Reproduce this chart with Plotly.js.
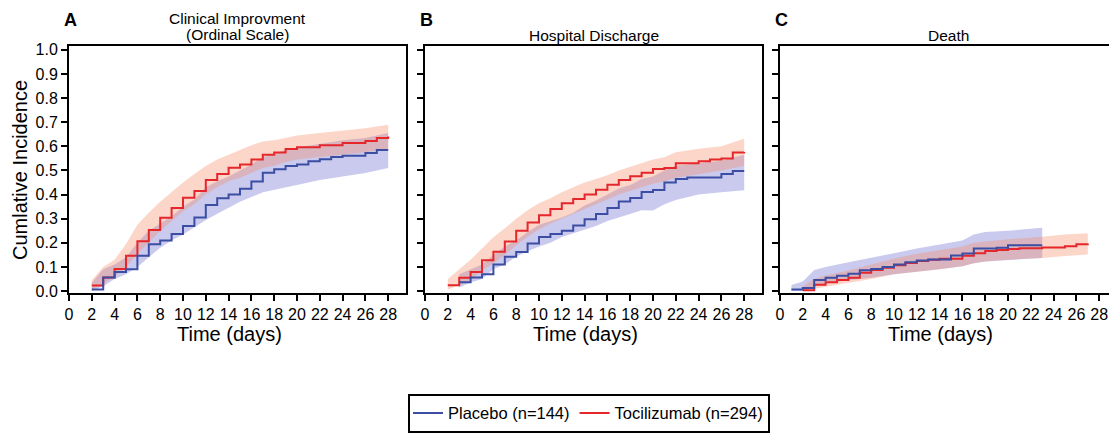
<!DOCTYPE html>
<html>
<head>
<meta charset="utf-8">
<script src="https://cdn.plot.ly/plotly-3.0.1.min.js"></script>
<style>
html, body { margin: 0; padding: 0; overflow: hidden; background: #fff; }
#chart { width: 1120px; height: 433px; }
</style>
</head>
<body>
<div id="chart"></div>
<script>
// ---------- Data ----------
const panelTitles = ["Clinical Improvment", "Hospital Discharge", "Death"];
const panelLetters = ["A", "B", "C"];
const seriesNames = ["Placebo (n=144)", "Tocilizumab (n=294)"];
const xTicks = [0, 2, 4, 6, 8, 10, 12, 14, 16, 18, 20, 22, 24, 26, 28];
const yTicks = [0, 0.1, 0.2, 0.3, 0.4, 0.5, 0.6, 0.7, 0.8, 0.9, 1.0];

// Panel A: Clinical improvement (ordinal scale)
const aToci_t = [2,3,4,5,6,7,8,9,10,11,12,13,14,15,16,17,18,19,20,22,24,26,27,28];
const aToci_v = [0.023,0.056,0.092,0.146,0.207,0.253,0.304,0.344,0.387,0.415,0.46,0.485,0.511,0.525,0.545,0.565,0.574,0.589,0.596,0.605,0.614,0.622,0.635,0.641];
const aPlac_t = [2,3,4,5,6,7,8,9,10,11,12,13,14,15,16,17,18,19,20,21,22,23,24,26,27,28];
const aPlac_v = [0.007,0.056,0.079,0.09,0.146,0.194,0.21,0.237,0.27,0.305,0.357,0.385,0.40,0.424,0.454,0.491,0.505,0.518,0.525,0.538,0.547,0.556,0.561,0.572,0.585,0.585];
const aBand_t = [2,3,4,5,6,7,8,9,10,11,12,13,14,15,16,17,18,19,20,22,24,26,28];
const aToci_hi = [0.045,0.10,0.13,0.195,0.275,0.325,0.37,0.41,0.45,0.485,0.518,0.545,0.565,0.585,0.605,0.62,0.625,0.635,0.645,0.655,0.665,0.675,0.69];
const aToci_lo = [0.005,0.03,0.06,0.10,0.155,0.20,0.25,0.29,0.33,0.36,0.40,0.43,0.455,0.47,0.49,0.51,0.52,0.535,0.545,0.555,0.565,0.575,0.59];
const aPlac_hi = [0.035,0.09,0.11,0.14,0.20,0.25,0.28,0.31,0.35,0.38,0.43,0.455,0.475,0.50,0.525,0.555,0.57,0.585,0.595,0.61,0.625,0.635,0.655];
const aPlac_lo = [0.0,0.02,0.05,0.07,0.10,0.14,0.18,0.21,0.235,0.265,0.295,0.32,0.345,0.37,0.39,0.41,0.42,0.43,0.44,0.46,0.475,0.49,0.51];

// Panel B: Hospital discharge
const bToci_t = [2,3,4,5,6,7,8,9,10,11,12,13,14,15,16,17,18,19,20,21,22,24,25,26,27,28];
const bToci_v = [0.024,0.055,0.079,0.128,0.163,0.205,0.25,0.284,0.314,0.34,0.364,0.382,0.40,0.42,0.441,0.46,0.476,0.491,0.506,0.51,0.53,0.538,0.545,0.55,0.574,0.577];
const bPlac_t = [3,4,5,6,7,8,9,10,11,12,13,14,15,16,17,18,19,20,21,22,23,26,27,28];
const bPlac_v = [0.037,0.056,0.07,0.11,0.142,0.162,0.197,0.224,0.237,0.25,0.272,0.298,0.32,0.344,0.371,0.386,0.411,0.419,0.45,0.465,0.471,0.485,0.498,0.498];
const bTociBand_t = [2,3,4,5,6,7,8,9,10,11,12,13,14,15,16,17,18,19,20,21,22,24,26,28];
const bToci_hi = [0.05,0.09,0.13,0.177,0.223,0.26,0.30,0.335,0.364,0.385,0.41,0.43,0.45,0.465,0.48,0.50,0.515,0.53,0.545,0.555,0.575,0.59,0.60,0.632];
const bToci_lo = [0.005,0.025,0.045,0.085,0.115,0.15,0.19,0.225,0.255,0.28,0.30,0.32,0.34,0.36,0.38,0.40,0.415,0.43,0.445,0.455,0.47,0.485,0.50,0.52];
const bPlacBand_t = [3,4,5,6,7,8,9,10,11,12,13,14,15,16,17,18,19,20,21,22,24,26,28];
const bPlac_hi = [0.07,0.09,0.11,0.15,0.185,0.21,0.245,0.275,0.29,0.305,0.325,0.355,0.375,0.40,0.425,0.44,0.465,0.475,0.50,0.52,0.53,0.54,0.565];
const bPlac_lo = [0.015,0.036,0.05,0.09,0.11,0.143,0.165,0.185,0.20,0.224,0.24,0.255,0.27,0.29,0.305,0.32,0.335,0.334,0.36,0.378,0.40,0.41,0.418];

// Panel C: Death
const cToci_t = [2,3,4,5,6,7,8,9,10,11,12,13,14,16,17,18,19,20,21,23,25,26,27];
const cToci_v = [0.003,0.026,0.037,0.046,0.055,0.076,0.087,0.097,0.107,0.116,0.125,0.13,0.134,0.146,0.157,0.166,0.17,0.174,0.178,0.181,0.186,0.194,0.197];
const cPlac_t = [1,2,3,4,5,6,7,8,9,10,11,12,13,15,16,17,19,20,23];
const cPlac_v = [0.006,0.013,0.046,0.055,0.064,0.072,0.086,0.092,0.10,0.11,0.119,0.127,0.131,0.147,0.156,0.176,0.18,0.19,0.19];
const cTociBand_t = [2,3,4,6,8,10,12,14,16,17,18,20,23,25,27];
const cToci_hi = [0.02,0.05,0.065,0.085,0.11,0.135,0.155,0.17,0.185,0.20,0.205,0.215,0.225,0.235,0.24];
const cToci_lo = [0.0,0.01,0.02,0.035,0.05,0.07,0.08,0.09,0.103,0.115,0.123,0.13,0.137,0.145,0.152];
const cPlacBand_t = [1,2,3,4,6,8,10,12,14,16,17,18,20,23];
const cPlac_hi = [0.025,0.04,0.087,0.10,0.119,0.137,0.157,0.177,0.194,0.21,0.235,0.245,0.25,0.262];
const cPlac_lo = [0.0,0.0,0.02,0.03,0.045,0.055,0.07,0.08,0.09,0.103,0.115,0.123,0.13,0.137];

// ---------- Styling ----------
const FONT = "Liberation Sans, Arial, Helvetica, sans-serif";
const BLUE = "#3b4ea3";
const RED = "#e5262b";
const BLUE_BAND = "rgba(100,100,205,0.34)";
const RED_BAND = "rgba(245,140,105,0.36)";
const W = 1120, H = 433;
const plotTop = 46, plotBottom = 301, plotH = plotBottom - plotTop;
const px = v => v / W;
const py = v => (plotBottom - v) / plotH;

const panels = [
  {toci_t: aToci_t, toci_v: aToci_v, plac_t: aPlac_t, plac_v: aPlac_v,
   tb_t: aBand_t, tb_hi: aToci_hi, tb_lo: aToci_lo, pb_t: aBand_t, pb_hi: aPlac_hi, pb_lo: aPlac_lo},
  {toci_t: bToci_t, toci_v: bToci_v, plac_t: bPlac_t, plac_v: bPlac_v,
   tb_t: bTociBand_t, tb_hi: bToci_hi, tb_lo: bToci_lo, pb_t: bPlacBand_t, pb_hi: bPlac_hi, pb_lo: bPlac_lo},
  {toci_t: cToci_t, toci_v: cToci_v, plac_t: cPlac_t, plac_v: cPlac_v,
   tb_t: cTociBand_t, tb_hi: cToci_hi, tb_lo: cToci_lo, pb_t: cPlacBand_t, pb_hi: cPlac_hi, pb_lo: cPlac_lo}
];
const domainsPx = [[69, 406], [425, 762], [780, 1117]];

function band(t, hi, lo, color, xa, ya) {
  return {
    x: t.concat(t.slice().reverse()),
    y: hi.concat(lo.slice().reverse()),
    xaxis: xa, yaxis: ya, type: "scatter", mode: "lines",
    fill: "toself", fillcolor: color, line: {width: 0, color: color},
    hoverinfo: "skip", showlegend: false
  };
}

const traces = [];
const layout = {
  width: W, height: H, autosize: false,
  margin: {l: 0, r: 0, t: plotTop, b: H - plotBottom, pad: 0},
  paper_bgcolor: "#fff", plot_bgcolor: "#fff",
  font: {family: FONT, color: "#000"},
  showlegend: true,
  legend: {
    orientation: "h", x: px(408), xanchor: "left", y: py(405), yanchor: "top",
    bordercolor: "#000", borderwidth: 2, bgcolor: "#fff",
    font: {family: FONT, size: 16.5, color: "#000"}, itemwidth: 30
  },
  annotations: []
};

panels.forEach((p, i) => {
  const n = i === 0 ? "" : String(i + 1);
  const xa = "x" + n, ya = "y" + n;
  traces.push(band(p.pb_t, p.pb_hi, p.pb_lo, BLUE_BAND, xa, ya));
  traces.push(band(p.tb_t, p.tb_hi, p.tb_lo, RED_BAND, xa, ya));
  traces.push({x: p.toci_t, y: p.toci_v, xaxis: xa, yaxis: ya, type: "scatter", mode: "lines",
    line: {shape: "hv", color: RED, width: 2}, name: seriesNames[1], legendgroup: "toci",
    legendrank: 2, showlegend: i === 0});
  traces.push({x: p.plac_t, y: p.plac_v, xaxis: xa, yaxis: ya, type: "scatter", mode: "lines",
    line: {shape: "hv", color: BLUE, width: 2}, name: seriesNames[0], legendgroup: "plac",
    legendrank: 1, showlegend: i === 0});

  const d = domainsPx[i];
  layout["xaxis" + n] = {
    domain: [px(d[0]), px(d[1])], anchor: ya, range: [0, (d[1] - d[0]) / 11.4],
    tickmode: "array", tickvals: xTicks, ticktext: xTicks.map(String),
    ticks: "outside", ticklen: 6, tickwidth: 2, tickcolor: "#000",
    showline: true, linewidth: 2, linecolor: "#000", mirror: true,
    showgrid: false, zeroline: false, fixedrange: true,
    tickfont: {family: FONT, size: 16, color: "#000"}
  };
  layout["yaxis" + n] = {
    domain: [0, 1], anchor: xa, range: [-0.008, 1.016],
    tickmode: "array", tickvals: yTicks, ticktext: yTicks.map(v => v.toFixed(1)),
    showticklabels: i === 0,
    ticks: "outside", ticklen: 6, tickwidth: 2, tickcolor: "#000",
    showline: true, linewidth: 2, linecolor: "#000", mirror: true,
    showgrid: false, zeroline: false, fixedrange: true,
    tickfont: {family: FONT, size: 16, color: "#000"}
  };

  // panel letter
  layout.annotations.push({text: "<b>" + panelLetters[i] + "</b>", xref: "paper", yref: "paper",
    x: px(d[0] + 1), y: py(19), xanchor: "center", yanchor: "middle", showarrow: false,
    font: {family: FONT, size: 18, color: "#000"}});
  // x-axis title
  layout.annotations.push({text: "Time (days)", xref: xa, yref: "paper",
    x: 14.1, y: py(343), xanchor: "center", yanchor: "middle", showarrow: false,
    font: {family: FONT, size: 20, color: "#000"}});
});

// panel titles
const centers = domainsPx.map(d => (d[0] + d[1]) / 2);
layout.annotations.push({text: panelTitles[0], xref: "paper", yref: "paper",
  x: px(centers[0]), y: py(18), xanchor: "center", yanchor: "middle", showarrow: false,
  font: {family: FONT, size: 15.5, color: "#000"}});
layout.annotations.push({text: "(Ordinal Scale)", xref: "paper", yref: "paper",
  x: px(centers[0]), y: py(34), xanchor: "center", yanchor: "middle", showarrow: false,
  font: {family: FONT, size: 15.5, color: "#000"}});
layout.annotations.push({text: panelTitles[1], xref: "paper", yref: "paper",
  x: px(centers[1]), y: py(35), xanchor: "center", yanchor: "middle", showarrow: false,
  font: {family: FONT, size: 15.5, color: "#000"}});
layout.annotations.push({text: panelTitles[2], xref: "paper", yref: "paper",
  x: px(centers[2]), y: py(35), xanchor: "center", yanchor: "middle", showarrow: false,
  font: {family: FONT, size: 15.5, color: "#000"}});
// y-axis title
layout.annotations.push({text: "Cumlative Incidence", xref: "paper", yref: "paper",
  x: px(20), y: py(174), xanchor: "center", yanchor: "middle", textangle: -90, showarrow: false,
  font: {family: FONT, size: 20, color: "#000"}});

Plotly.newPlot("chart", traces, layout, {displayModeBar: false, staticPlot: true});
</script>
</body>
</html>
